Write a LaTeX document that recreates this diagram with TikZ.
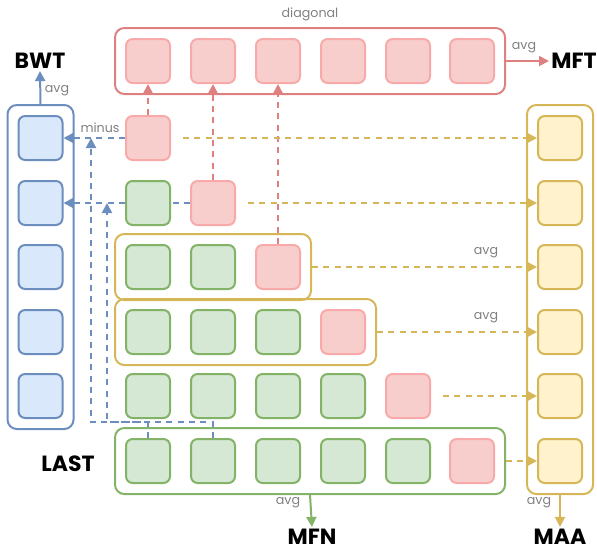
\documentclass[tikz,border=0pt]{standalone}
\usepackage{fontspec}
\setmainfont{Poppins}
\usetikzlibrary{arrows.meta, fit}

\definecolor{bluefill}{HTML}{DAE8FC}
\definecolor{blueline}{HTML}{6C8EBF}
\definecolor{greenfill}{HTML}{D5E8D4}
\definecolor{greenline}{HTML}{82B366}
\definecolor{pinkfill}{HTML}{F8CECC}
\definecolor{pinkline}{HTML}{F8AAAA}
\definecolor{redline}{HTML}{DE8080}
\definecolor{yellowfill}{HTML}{FFF2CC}
\definecolor{yellowline}{HTML}{D6B656}
\definecolor{notegray}{HTML}{808080}

\tikzset{
    cell/.style={draw, rounded corners=5pt, minimum size=33pt, line width=1.5pt},
    bluecell/.style={cell, draw=blueline, fill=bluefill},
    greencell/.style={cell, draw=greenline, fill=greenfill},
    pinkcell/.style={cell, draw=pinkline, fill=pinkfill},
    yellowcell/.style={cell, draw=yellowline, fill=yellowfill},
    group/.style={draw, rounded corners=7pt, line width=1.5pt, inner sep=7.5pt},
    metric/.style={font=\bfseries\fontsize{16.5}{16.5}\selectfont, inner sep=1pt},
    note/.style={text=notegray, font=\fontsize{9.5}{9.5}\selectfont, inner sep=1pt},
    dashy/.style={dash pattern=on 4.5pt off 4pt},
    tip/.style={-{Triangle[length=7.5pt, width=7.5pt]}}
}

\begin{document}
\begin{tikzpicture}[x=0.75pt, y=-0.75pt, line width=1.5pt]
    \useasboundingbox (0, 0) rectangle (597, 554);

    % Diagonal row
    \node[pinkcell] (d1) at (148, 61) {};
    \node[pinkcell] (d2) at (213, 61) {};
    \node[pinkcell] (d3) at (278, 61) {};
    \node[pinkcell] (d4) at (343, 61) {};
    \node[pinkcell] (d5) at (408, 61) {};
    \node[pinkcell] (d6) at (472, 61) {};

    % Accuracy after each task
    \node[pinkcell] (r1c1) at (148, 138) {};

    \node[greencell] (r2c1) at (148, 203) {};
    \node[pinkcell] (r2c2) at (213, 203) {};

    \node[greencell] (r3c1) at (148, 267) {};
    \node[greencell] (r3c2) at (213, 267) {};
    \node[pinkcell] (r3c3) at (278, 267) {};

    \node[greencell] (r4c1) at (148, 332) {};
    \node[greencell] (r4c2) at (213, 332) {};
    \node[greencell] (r4c3) at (278, 332) {};
    \node[pinkcell] (r4c4) at (343, 332) {};

    \node[greencell] (r5c1) at (148, 396) {};
    \node[greencell] (r5c2) at (213, 396) {};
    \node[greencell] (r5c3) at (278, 396) {};
    \node[greencell] (r5c4) at (343, 396) {};
    \node[pinkcell] (r5c5) at (408, 396) {};

    \node[greencell] (r6c1) at (148, 461) {};
    \node[greencell] (r6c2) at (213, 461) {};
    \node[greencell] (r6c3) at (278, 461) {};
    \node[greencell] (r6c4) at (343, 461) {};
    \node[greencell] (r6c5) at (408, 461) {};
    \node[pinkcell] (r6c6) at (472, 461) {};

    % BWT column
    \node[bluecell] (b1) at (40.5, 138) {};
    \node[bluecell] (b2) at (40.5, 203) {};
    \node[bluecell] (b3) at (40.5, 267) {};
    \node[bluecell] (b4) at (40.5, 332) {};
    \node[bluecell] (b5) at (40.5, 396) {};

    % MAA column
    \node[yellowcell] (a1) at (560, 138) {};
    \node[yellowcell] (a2) at (560, 203) {};
    \node[yellowcell] (a3) at (560, 267) {};
    \node[yellowcell] (a4) at (560, 332) {};
    \node[yellowcell] (a5) at (560, 396) {};
    \node[yellowcell] (a6) at (560, 461) {};

    % Groups
    \node[group, draw=redline, fit=(d1)(d6)] (diag) {};
    \node[group, draw=blueline, fit=(b1)(b5)] (bwtbox) {};
    \node[group, draw=yellowline, fit=(a1)(a6)] (maabox) {};
    \node[group, draw=yellowline, fit=(r3c1)(r3c3)] (row3box) {};
    \node[group, draw=yellowline, fit=(r4c1)(r4c4)] (row4box) {};
    \node[group, draw=greenline, fit=(r6c1)(r6c6)] (lastbox) {};

    % Metrics
    \node[metric] (bwt) at (40, 61) {BWT};
    \node[metric, anchor=west] (mft) at (549, 61) {MFT};
    \node[metric] (mfn) at (312, 537) {MFN};
    \node[metric] (maa) at (560, 537) {MAA};
    \node[metric] (last) at (68, 464) {LAST};

    % Labels
    \node[note] (diaglabel) at (310, 14) {diagonal};
    \node[note] (minus) at (100, 128) {minus};
    \node[note] (avgbwt) at (57, 91) {avg};
    \node[note] (avgmft) at (524, 48) {avg};
    \node[note] (avgmfn) at (288, 503) {avg};
    \node[note] (avgmaa) at (539, 503) {avg};
    \node[note] (avgrow3) at (486, 253) {avg};
    \node[note] (avgrow4) at (486, 318) {avg};

    % Diagonal entries
    \draw[tip, dashy, redline] (r1c1.north) -- (d1.south);
    \draw[tip, dashy, redline] (r2c2.north) -- (d2.south);
    \draw[tip, dashy, redline] (r3c3.north) -- (d3.south);

    % Minus
    \coordinate (m1) at (91, 422);
    \coordinate (m2) at (107, 422);
    \draw[tip, dashy, blueline] (r1c1.west) -- (b1.east);
    \draw[dashy, blueline] (r2c2.west) -- (r2c1.east);
    \draw[tip, dashy, blueline] (r2c1.west) -- (b2.east);
    \draw[tip, dashy, blueline] (r6c1.north) -- (r6c1.north |- m1) -- (m1) -- (m1 |- r1c1.west);
    \draw[tip, dashy, blueline] (r6c2.north) -- (r6c2.north |- m2) -- (m2) -- (m2 |- r2c1.west);

    % Averages over rows
    \draw[tip, dashy, yellowline, shorten <=9pt] (r1c1.east) -- (a1.west);
    \draw[tip, dashy, yellowline, shorten <=9pt] (r2c2.east) -- (a2.west);
    \draw[tip, dashy, yellowline] (row3box.east) -- (a3.west);
    \draw[tip, dashy, yellowline] (row4box.east) -- (a4.west);
    \draw[tip, dashy, yellowline, shorten <=9pt] (r5c5.east) -- (a5.west);
    \draw[tip, dashy, yellowline] (lastbox.east) -- (a6.west);

    % Metric arrows
    \draw[tip, blueline] (bwtbox.north) -- (bwt.south);
    \draw[tip, redline] (diag.east) -- (mft.west);
    \draw[tip, greenline] (lastbox.south) -- (mfn.north);
    \draw[tip, yellowline] (maabox.south) -- (maa.north);
\end{tikzpicture}
\end{document}
